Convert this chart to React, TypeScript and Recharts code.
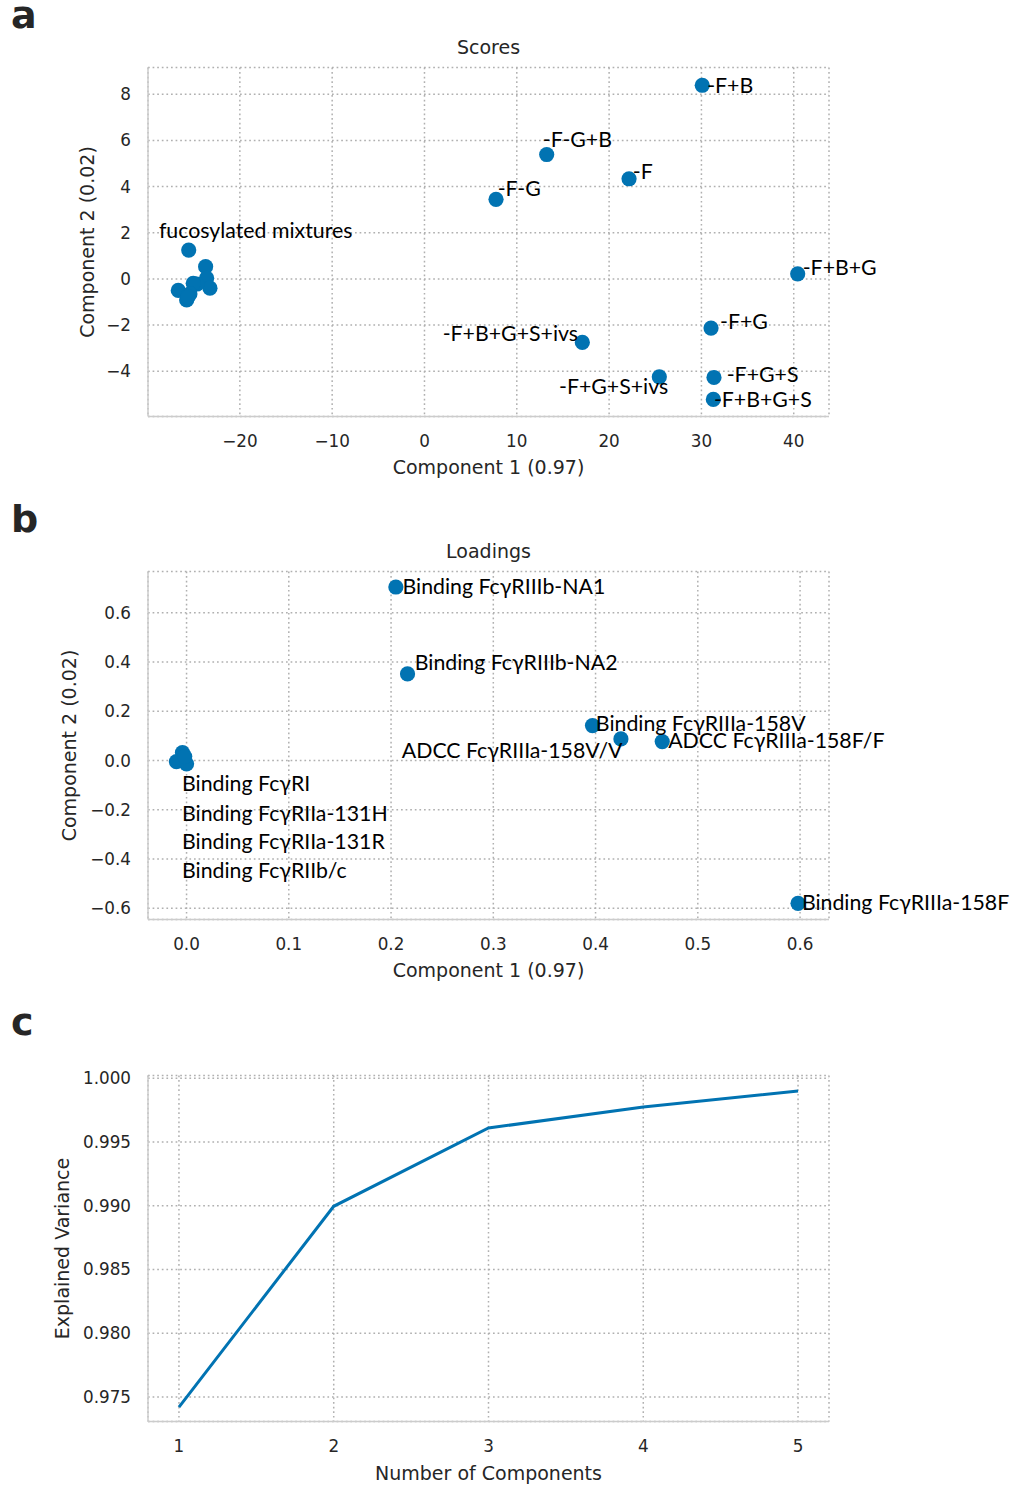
import React from 'react';
import { ScatterChart, Scatter, LineChart, Line, XAxis, YAxis, CartesianGrid } from 'recharts';

const BLUE = '#0173b2';
const TXT = '#262626';
const FRAME = '#cccccc';
const GRID = '#b0b0b0';
const AXF = 'DejaVu Sans, Verdana, sans-serif';
const ANF = 'Lato, Carlito, Calibri, sans-serif';

// ---------- Panel a: Scores ----------
const scoreX = [30.09, 13.24, 22.16, 7.75, 40.43, 31.04, 17.10, 25.44, 31.36, 31.29,
  -25.54, -23.71, -23.60, -23.24, -24.65, -25.05, -26.67, -25.76, -25.41, -25.62];
const scoreY = [8.39, 5.39, 4.34, 3.45, 0.22, -2.13, -2.75, -4.24, -4.27, -5.22,
  1.25, 0.53, 0.03, -0.40, -0.22, -0.19, -0.50, -0.91, -0.65, -0.78];
const scoreLabels = ['-F+B', '-F-G+B', '-F', '-F-G', 'fucosylated mixtures', '-F+B+G', '-F+G',
  '-F+B+G+S+ivs', '-F+G+S+ivs', '-F+G+S', '-F+B+G+S'];
const scoreLabelX = [30.62, 12.81, 22.56, 7.93, -28.77, 40.97, 32.02, 1.97, 14.57, 32.74, 31.35];
const scoreLabelY = [8.05, 5.70, 4.31, 3.59, 1.77, 0.17, -2.17, -2.70, -5.00, -4.45, -5.53];
const scoreXTicks = [-20, -10, 0, 10, 20, 30, 40];
const scoreYTicks = [-4, -2, 0, 2, 4, 6, 8];

// ---------- Panel b: Loadings ----------
const loadX = [0.2047, 0.2161, 0.397, 0.4248, 0.4652, 0.598, -0.004, -0.0099, 0.0, -0.0018];
const loadY = [0.705, 0.352, 0.142, 0.088, 0.077, -0.580, 0.0325, -0.004, -0.0134, 0.0163];
const loadLabels = ['Binding FcγRIIIb-NA1', 'Binding FcγRIIIb-NA2', 'Binding FcγRIIIa-158V',
  'ADCC FcγRIIIa-158V/V', 'ADCC FcγRIIIa-158F/F', 'Binding FcγRIIIa-158F', 'Binding FcγRI',
  'Binding FcγRIIa-131H', 'Binding FcγRIIa-131R', 'Binding FcγRIIb/c'];
const loadLabelX = [0.2112, 0.2232, 0.4003, 0.2105, 0.4710, 0.6018, -0.0044, -0.0044, -0.0044, -0.0044];
const loadLabelY = [0.6776, 0.3687, 0.1220, 0.0110, 0.0528, -0.6069, -0.1220, -0.2439, -0.3602, -0.4780];
const loadXTicks = [0.0, 0.1, 0.2, 0.3, 0.4, 0.5, 0.6];
const loadYTicks = [-0.6, -0.4, -0.2, 0.0, 0.2, 0.4, 0.6];

// ---------- Panel c: Explained variance ----------
const nComponents = [1, 2, 3, 4, 5];
const explainedVariance = [0.9742, 0.98995, 0.99609, 0.99774, 0.99900];
const varXTicks = [1, 2, 3, 4, 5];
const varYTicks = [0.975, 0.980, 0.985, 0.990, 0.995, 1.000];

const minus = (s: string) => s.replace('-', '\u2212');
const fmtInt = (v: number) => minus(String(Math.round(v)));
const fmt1 = (v: number) => minus(v.toFixed(1));
const fmt3 = (v: number) => minus(v.toFixed(3));

const scorePoints = scoreX.map((x, i) => ({ x, y: scoreY[i] }));
const scoreLabelPts = scoreLabels.map((label, i) => ({ x: scoreLabelX[i], y: scoreLabelY[i], label }));
const loadPoints = loadX.map((x, i) => ({ x, y: loadY[i] }));
const loadLabelPts = loadLabels.map((label, i) => ({ x: loadLabelX[i], y: loadLabelY[i], label }));
const varData = nComponents.map((n, i) => ({ n, v: explainedVariance[i] }));

const W = 1021;
const PLOT_L = 148;
const PLOT_R = 829;
const YW = 110;
const XH = 58;

const tickStyle = { fill: TXT, fontSize: 16.8, fontFamily: AXF };

const Dot = (p: any) => <circle cx={p.cx} cy={p.cy} r={7.6} fill={BLUE} />;
const LabelText = (p: any) => (
  <text x={p.cx} y={p.cy} fontFamily={ANF} fontSize={21.3} fill="#000" textAnchor="start">
    {p.payload.label}
  </text>
);

function axes(xDomain: number[], yDomain: number[], xTicks: number[], yTicks: number[],
  xFmt: (v: number) => string, yFmt: (v: number) => string, xKey: string, yKey: string) {
  return [
    <CartesianGrid key="g" stroke={GRID} strokeDasharray="1.7 2.9" strokeWidth={1.5} />,
    <XAxis key="x" xAxisId={0} type="number" dataKey={xKey} domain={xDomain} ticks={xTicks}
      interval={0} tickFormatter={xFmt} tick={tickStyle} tickLine={false} tickSize={0}
      tickMargin={19} height={XH} axisLine={{ stroke: FRAME, strokeWidth: 1.5 }} />,
    <XAxis key="xt" xAxisId="top" orientation="top" type="number" domain={xDomain} height={0}
      tick={false} tickLine={false} axisLine={{ stroke: FRAME, strokeWidth: 1.5 }} />,
    <YAxis key="y" yAxisId={0} type="number" dataKey={yKey} domain={yDomain} ticks={yTicks}
      interval={0} tickFormatter={yFmt} tick={tickStyle} tickLine={false} tickSize={0}
      tickMargin={17} width={YW} axisLine={{ stroke: FRAME, strokeWidth: 1.5 }} />,
    <YAxis key="yr" yAxisId="right" orientation="right" type="number" domain={yDomain} width={0}
      tick={false} tickLine={false} axisLine={{ stroke: FRAME, strokeWidth: 1.5 }} />,
  ];
}

function margins(chartTop: number, chartH: number, plotTop: number, plotBottom: number) {
  return {
    top: plotTop - chartTop,
    left: PLOT_L - YW,
    right: W - PLOT_R,
    bottom: chartH - (plotBottom - chartTop) - XH,
  };
}

const A = { top: 0, h: 480, pt: 67.5, pb: 416.5 };
const B = { top: 490, h: 500, pt: 571.5, pb: 919.5 };
const C = { top: 995, h: 492, pt: 1075.5, pb: 1421.5 };

const abs = (top: number): React.CSSProperties => ({ position: 'absolute', left: 0, top });

export default function App() {
  return (
    <div style={{ position: 'absolute', left: 0, top: 0, width: W, height: 1487, background: '#fff' }}>
      <div style={abs(A.top)}>
        <ScatterChart width={W} height={A.h} margin={margins(A.top, A.h, A.pt, A.pb)}>
          {axes([-29.95, 43.82], [-5.96, 9.16], scoreXTicks, scoreYTicks, fmtInt, fmtInt, 'x', 'y')}
          <Scatter data={scorePoints} shape={Dot} isAnimationActive={false} />
          <Scatter data={scoreLabelPts} shape={LabelText} isAnimationActive={false} />
        </ScatterChart>
      </div>
      <div style={abs(B.top)}>
        <ScatterChart width={W} height={B.h} margin={margins(B.top, B.h, B.pt, B.pb)}>
          {axes([-0.0377, 0.6283], [-0.6455, 0.768], loadXTicks, loadYTicks, fmt1, fmt1, 'x', 'y')}
          <Scatter data={loadPoints} shape={Dot} isAnimationActive={false} />
          <Scatter data={loadLabelPts} shape={LabelText} isAnimationActive={false} />
        </ScatterChart>
      </div>
      <div style={abs(C.top)}>
        <LineChart width={W} height={C.h} data={varData} margin={margins(C.top, C.h, C.pt, C.pb)}>
          {axes([0.8, 5.2], [0.97307, 1.00021], varXTicks, varYTicks, fmtInt, fmt3, 'n', 'v')}
          <Line dataKey="v" stroke={BLUE} strokeWidth={3} dot={false} isAnimationActive={false} />
        </LineChart>
      </div>
      <svg width={W} height={1487} style={{ position: 'absolute', left: 0, top: 0, pointerEvents: 'none' }}>
        <g fontFamily={AXF} fill={TXT}>
          <text x={11} y={28} fontSize={38} fontWeight="bold">a</text>
          <text x={11} y={532} fontSize={38} fontWeight="bold">b</text>
          <text x={11} y={1035} fontSize={38} fontWeight="bold">c</text>
          <text x={488.5} y={54} fontSize={19} textAnchor="middle">Scores</text>
          <text x={488.5} y={557.5} fontSize={19} textAnchor="middle">Loadings</text>
          <text x={488.5} y={474} fontSize={19} textAnchor="middle">Component 1 (0.97)</text>
          <text x={488.5} y={977} fontSize={19} textAnchor="middle">Component 1 (0.97)</text>
          <text x={488.5} y={1480} fontSize={19} textAnchor="middle">Number of Components</text>
          <text x={87} y={242} fontSize={19} textAnchor="middle" dominantBaseline="central"
            transform="rotate(-90 87 242)">Component 2 (0.02)</text>
          <text x={69} y={745.5} fontSize={19} textAnchor="middle" dominantBaseline="central"
            transform="rotate(-90 69 745.5)">Component 2 (0.02)</text>
          <text x={62} y={1248.5} fontSize={19} textAnchor="middle" dominantBaseline="central"
            transform="rotate(-90 62 1248.5)">Explained Variance</text>
        </g>
      </svg>
    </div>
  );
}
